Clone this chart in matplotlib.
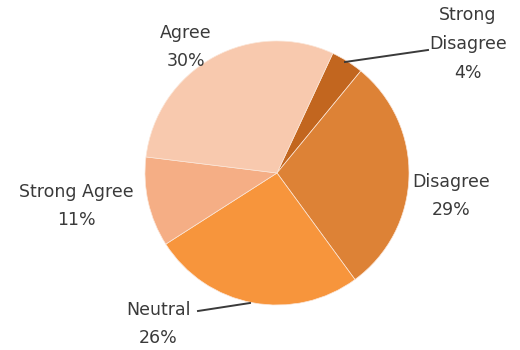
"""
Survey response breakdown pie chart
"""

import matplotlib.pyplot as plt

#---------------------------------------------------------------------------------------------------
# Input Parameters
#---------------------------------------------------------------------------------------------------

# Response categories in drawing order (clockwise)
categories = ['Strong\nDisagree', 'Disagree', 'Neutral', 'Strong Agree', 'Agree']
shares = [4, 29, 26, 11, 30]
colors = ['#c2661f', '#dd8236', '#f7953c', '#f5ae85', '#f8c9ae']

# Label positions (figure pixels, y measured down from top)
label_xy = [(468, 44), (451, 196), (158, 324), (76, 206), (186, 47)]
# Leader lines (pie edge -> label)
leaders = {0: [(345, 62), (428, 50)], 2: [(250, 303), (198, 311)]}

out_fname = 'out.png'

#---------------------------------------------------------------------------------------------------
# Main Program
#---------------------------------------------------------------------------------------------------

W, H = 520, 350
fig = plt.figure(figsize=(W/100, H/100), dpi=100)
ax = fig.add_axes([0, 0, 1, 1])

ax.pie(shares, colors=colors, startangle=65, counterclock=False,
       center=(277, H-173), radius=132, frame=True,
       wedgeprops={'edgecolor': '#fbe6d8', 'linewidth': 0.5})
ax.set_xlim(0, W)
ax.set_ylim(0, H)
ax.set_aspect('equal')
ax.axis('off')

for i, (cat, val) in enumerate(zip(categories, shares)):
    x, y = label_xy[i]
    ax.text(x, H-y, f"{cat}\n{val}%", ha='center', va='center', fontsize=12.5,
            family='DejaVu Sans', color='#3a3a3a', linespacing=1.75)

for pts in leaders.values():
    xs = [p[0] for p in pts]
    ys = [H-p[1] for p in pts]
    ax.plot(xs, ys, color='#3a3a3a', lw=1.4)

plt.savefig(out_fname, dpi=100)
